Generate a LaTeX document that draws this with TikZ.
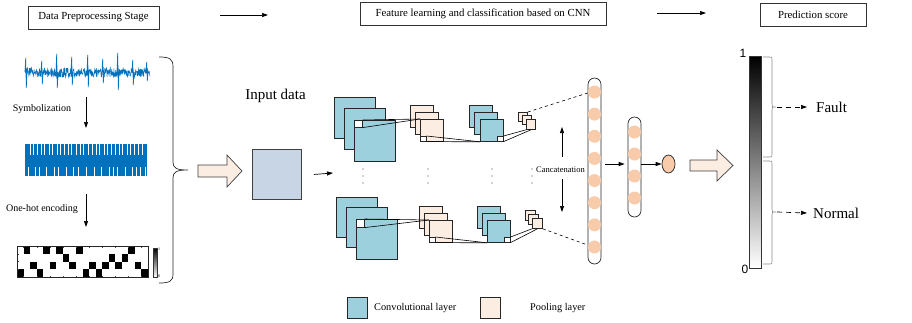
\documentclass[tikz,border=0pt]{standalone}
\usepackage{fontspec}
\setmainfont{Liberation Serif}
\newfontfamily\axisfont{Liberation Sans}
\usetikzlibrary{arrows.meta,shapes.geometric}
\definecolor{convblue}{RGB}{155,208,220}
\definecolor{poolpeach}{RGB}{252,237,226}
\definecolor{unitpeach}{RGB}{248,204,170}
\definecolor{inputgray}{RGB}{200,213,228}
\definecolor{sigblue}{RGB}{0,114,189}
\begin{document}
\begin{tikzpicture}[x=1pt,y=-1pt,
  stagebox/.style={draw=black!80, line width=0.7pt, inner sep=0, minimum height=23pt,
    font=\fontsize{10.8}{12}\selectfont},
  fmap/.style={draw=black!85, line width=0.8pt, inner sep=0, anchor=north west},
  conv/.style={fmap, fill=convblue},
  pool/.style={fmap, fill=poolpeach},
  hole/.style={fmap, fill=white, line width=0.6pt},
  link/.style={black, line width=0.6pt},
  arr/.style={-{Triangle[length=6pt,width=4pt]}, line width=0.7pt},
  unit/.style={circle, fill=unitpeach, inner sep=0, minimum size=13pt},
  column/.style={draw=black!85, rounded corners=6.5pt, line width=0.7pt, inner sep=0, minimum width=13pt},
  hollow/.style={fill=poolpeach, draw=black!75, line width=0.7pt},
  vdots/.style={fill=black!75, radius=0.7pt},
  lbl/.style={inner sep=0, font=\fontsize{10}{12}\selectfont},
  gbrace/.style={draw=black!45, line width=0.6pt}
]
\useasboundingbox (0,0) rectangle (912,322);

% ---------- stage titles ----------
\node[stagebox, minimum width=131pt] (prep) at (93.5,17.5) {Data Preprocessing Stage};
\node[stagebox, minimum width=246pt] (cnn) at (483,14) {Feature learning and classification based on CNN};
\node[stagebox, minimum width=106pt] (pred) at (813,15) {Prediction score};
\coordinate (t1a) at (220,15); \coordinate (t1b) at (268,15);
\coordinate (t2a) at (657,13); \coordinate (t2b) at (706,13);
\draw[arr] (t1a) -- (t1b);
\draw[arr] (t2a) -- (t2b);

% ---------- raw vibration signal ----------
\pgfmathsetseed{17}
\draw[sigblue, line width=0.5pt] plot[samples=420, domain=25:150] (\x,{72.5+4.6*rand});
\foreach \s/\u/\d in {26/58/88, 42/61/84, 57/54/88, 72/57/85, 88/55/87, 103/59/83, 118/53/90, 133/60/85, 147/62/81}
  \draw[sigblue, line width=0.7pt] (\s-1,72) -- (\s-0.3,\u) -- (\s+0.3,\d) -- (\s+1,72);

\node[lbl] (symb) at (42,109) {Symbolization};
\coordinate (a1a) at (86,97); \coordinate (a1b) at (86,128);
\draw[arr] (a1a) -- (a1b);

% ---------- symbolized sequence ----------
\fill[sigblue] (25,144) rectangle (147,176);
\foreach \x in {30,33,37,41,44,49,52,57,60,64,68,71,76,80,83,88,92,96,99,104,107,111,115,119,122,127,130,134,138,142}
  \draw[white, line width=0.6pt] (\x,144) -- (\x,155);
\foreach \x in {28,35,39,46,54,58,66,73,78,86,94,101,109,113,117,125,132,136,140,145}
  \draw[white, line width=0.6pt] (\x,167) -- (\x,176);

\node[lbl] (onehot) at (42,209) {One-hot encoding};
\coordinate (a2a) at (86,194); \coordinate (a2b) at (86,227);
\draw[arr] (a2a) -- (a2b);

% ---------- one-hot matrix ----------
\foreach \c/\r in {0/3,1/0,2/2,3/3,4/0,5/2,6/0,7/1,8/2,9/0,10/3,11/2,12/3,13/2,14/1,15/2,16/1,17/0,18/2,19/3}
  \fill[black] ({17+6.55*\c},{246+7.75*\r}) rectangle ++(6.55,7.75);
\foreach \c in {1,3,...,19} {
  \draw[black!70, line width=0.3pt] ({17+6.55*\c},246) -- ++(0,1.5);
  \draw[black!70, line width=0.3pt] ({17+6.55*\c},277) -- ++(0,-1.5);
}
\foreach \r in {1,2,3}
  \draw[black!70, line width=0.3pt] (17,{246+7.75*\r}) -- ++(1.5,0);
\node[draw=black!85, line width=0.6pt, inner sep=0, minimum width=131pt, minimum height=31pt, anchor=north west] (onehotmat) at (17,246) {};
\shade[top color=black, bottom color=white] (153,248) rectangle (157,277);
\draw[black!80, line width=0.3pt] (153,248) rectangle (157,277);
\node[inner sep=0, font=\fontsize{4}{4}\selectfont, anchor=west] (cb1) at (158,249) {1};
\node[inner sep=0, font=\fontsize{4}{4}\selectfont, anchor=west] (cb0) at (158,276) {0};

% ---------- brace of the preprocessing column ----------
\draw[black!85, line width=0.7pt]
  (159,57) .. controls (170,57) and (173,59) .. (173,67) -- (173,162)
  .. controls (173,168) and (176,170) .. (188,170)
  .. controls (176,170) and (173,172) .. (173,178) -- (173,274)
  .. controls (173,281) and (170,283) .. (159,283);

% ---------- hollow arrow into the network ----------
\draw[hollow] (198,165) -- (227,165) -- (227,155) -- (242,171) -- (227,187) -- (227,177) -- (198,177) -- cycle;

% ---------- input ----------
\node[font=\fontsize{15}{17}\selectfont, inner sep=0] (intext) at (275.5,96) {Input data};
\node[fmap, fill=inputgray, draw=black!75, line width=0.9pt, minimum width=49pt, minimum height=50pt] (inputsq) at (252,149) {};
\coordinate (convin) at (333,173);
\draw[arr] ([xshift=12pt]inputsq.east) -- (convin);

% ---------- upper branch ----------
\node[conv, minimum width=41pt, minimum height=41pt] (ua1) at (334,97) {};
\node[conv, minimum width=41pt, minimum height=41pt] (ua2) at (344,108) {};
\node[conv, minimum width=41pt, minimum height=41pt] (ua3) at (354,120) {};
\node[hole, minimum width=8pt, minimum height=7pt] (uah) at (354,120) {};
\node[pool, minimum width=23pt, minimum height=22pt] (ub1) at (410,105) {};
\node[pool, minimum width=23pt, minimum height=22pt] (ub2) at (415,112) {};
\node[pool, minimum width=23pt, minimum height=22pt] (ub3) at (420,119) {};
\node[hole, minimum width=6pt, minimum height=5pt] (ubh) at (420,136) {};
\node[conv, minimum width=23pt, minimum height=22pt] (uc1) at (469,105) {};
\node[conv, minimum width=23pt, minimum height=22pt] (uc2) at (474,112) {};
\node[conv, minimum width=23pt, minimum height=22pt] (uc3) at (480,119) {};
\node[hole, minimum width=6pt, minimum height=5pt] (uch) at (497,136) {};
\node[pool, minimum width=9pt, minimum height=9pt] (ud1) at (518,112) {};
\node[pool, minimum width=9pt, minimum height=9pt] (ud2) at (522,115) {};
\node[pool, minimum width=9pt, minimum height=10pt] (ud3) at (526,119) {};
\draw[link] (uah.north east) -- (ub3.north west);
\draw[link] (uah.south east) -- (ub3.north west);
\draw[link] (ubh.north east) -- (uc3.south west);
\draw[link] (ubh.south east) -- (uc3.south west);
\draw[link] (uch.north east) -- (ud3.south west);
\draw[link] (uch.south east) -- (ud3.south);

% ---------- lower branch ----------
\node[conv, minimum width=41pt, minimum height=40pt] (la1) at (336,197) {};
\node[conv, minimum width=41pt, minimum height=40pt] (la2) at (346,207) {};
\node[conv, minimum width=41pt, minimum height=40pt] (la3) at (356,219) {};
\node[hole, minimum width=8pt, minimum height=8pt] (lah) at (356,219) {};
\node[pool, minimum width=23pt, minimum height=22pt] (lb1) at (419,206) {};
\node[pool, minimum width=23pt, minimum height=22pt] (lb2) at (424,213) {};
\node[pool, minimum width=23pt, minimum height=22pt] (lb3) at (429,220) {};
\node[hole, minimum width=6pt, minimum height=5pt] (lbh) at (429,237) {};
\node[conv, minimum width=23pt, minimum height=22pt] (lc1) at (477,206) {};
\node[conv, minimum width=23pt, minimum height=22pt] (lc2) at (482,213) {};
\node[conv, minimum width=23pt, minimum height=22pt] (lc3) at (487,220) {};
\node[hole, minimum width=6pt, minimum height=5pt] (lch) at (504,237) {};
\node[pool, minimum width=10pt, minimum height=10pt] (ld1) at (525,210) {};
\node[pool, minimum width=10pt, minimum height=10pt] (ld2) at (528,214) {};
\node[pool, minimum width=10pt, minimum height=10pt] (ld3) at (532,218) {};
\draw[link] (lah.north east) -- (lb3.north west);
\draw[link] (lah.south east) -- (lb3.north west);
\draw[link] (lbh.north east) -- (lc3.south west);
\draw[link] (lbh.south east) -- (lc3.south west);
\draw[link] (lch.north east) -- (ld3.south west);
\draw[link] (lch.south east) -- (ld3.south);

% ---------- elision dots ----------
\foreach \x in {363,428,492,532}
  \foreach \y in {169,176,183}
    \fill[vdots] (\x,\y) circle;

% ---------- concatenation ----------
\node[inner sep=0, anchor=west, font=\fontsize{8.5}{10}\selectfont] (cat) at (536,170) {Cancatenation};
\coordinate (catu0) at (562,157); \coordinate (catu1) at (562,127);
\coordinate (catd0) at (562,179); \coordinate (catd1) at (562,212);
\draw[arr] (catu0) -- (catu1);
\draw[arr] (catd0) -- (catd1);

% ---------- fully connected layers ----------
\node[column, minimum height=186pt] (fc1) at (594.5,171) {};
\foreach \i in {0,...,7}
  \node[unit] (fa\i) at (594.5,{92+22.14*\i}) {};
\node[column, minimum height=100pt] (fc2) at (634.5,167) {};
\foreach \y [count=\i] in {132,154,176,198}
  \node[unit] (fb\i) at (634.5,\y) {};
\node[ellipse, draw=black!85, line width=0.7pt, fill=unitpeach, inner sep=0, minimum width=13pt, minimum height=18pt] (outunit) at (668.5,164) {};
\draw[arr] ([xshift=4pt]fc1.east |- outunit.center) -- ([xshift=-3pt]fc2.west |- outunit.center);
\draw[arr] (fc2.east |- outunit.center) -- (outunit.west);
\draw[link, dashed] (ud1.north east) -- (fc1.west |- 0,93);
\draw[link, dashed] (ld3.south east) -- (fc1.west |- 0,245);

% ---------- hollow arrow to the score ----------
\draw[hollow] (690,160) -- (717,160) -- (717,150) -- (733,165.5) -- (717,181) -- (717,171) -- (690,171) -- cycle;

% ---------- score bar ----------
\shade[top color=black, bottom color=white] (749,56) rectangle (761,268);
\node[draw=black!80, line width=0.7pt, inner sep=0, minimum width=12pt, minimum height=212pt, anchor=north west] (bar) at (749,56) {};
\node[font=\axisfont\fontsize{12}{12}\selectfont, inner sep=0] (one) at (743,53) {1};
\node[font=\axisfont\fontsize{12}{12}\selectfont, inner sep=0] (zero) at (745,269) {0};

\draw[gbrace] (763,57) -- (770,57) .. controls (772,57) .. (772,60) -- (772,104)
  .. controls (772,107) .. (776,107) .. controls (772,107) .. (772,110) -- (772,154)
  .. controls (772,157) .. (770,157) -- (763,157);
\draw[gbrace] (763,161) -- (770,161) .. controls (772,161) .. (772,164) -- (772,209)
  .. controls (772,212) .. (776,212) .. controls (772,212) .. (772,215) -- (772,261)
  .. controls (772,264) .. (770,264) -- (763,264);

\node[inner sep=0, anchor=west, font=\fontsize{15}{17}\selectfont] (fault) at (816,107) {Fault};
\node[inner sep=0, anchor=west, font=\fontsize{15}{17}\selectfont] (normal) at (813,213) {Normal};
\coordinate (fb) at (777,107); \coordinate (nb) at (777,212);
\draw[arr, dash pattern=on 5pt off 4pt] (fb) -- ([xshift=-9pt]fault.west);
\draw[arr, dash pattern=on 5pt off 4pt] (nb) -- ([xshift=-6pt]normal.west);

% ---------- legend ----------
\node[conv, minimum width=20pt, minimum height=21pt] (legconv) at (347,297) {};
\node[inner sep=0, anchor=west, font=\fontsize{10.3}{12}\selectfont] (legconvtxt) at (374,308) {Convolutional layer};
\node[pool, minimum width=20pt, minimum height=21pt] (legpool) at (480,297) {};
\node[inner sep=0, anchor=west, font=\fontsize{10.3}{12}\selectfont] (legpooltxt) at (530,308) {Pooling layer};
\end{tikzpicture}
\end{document}
